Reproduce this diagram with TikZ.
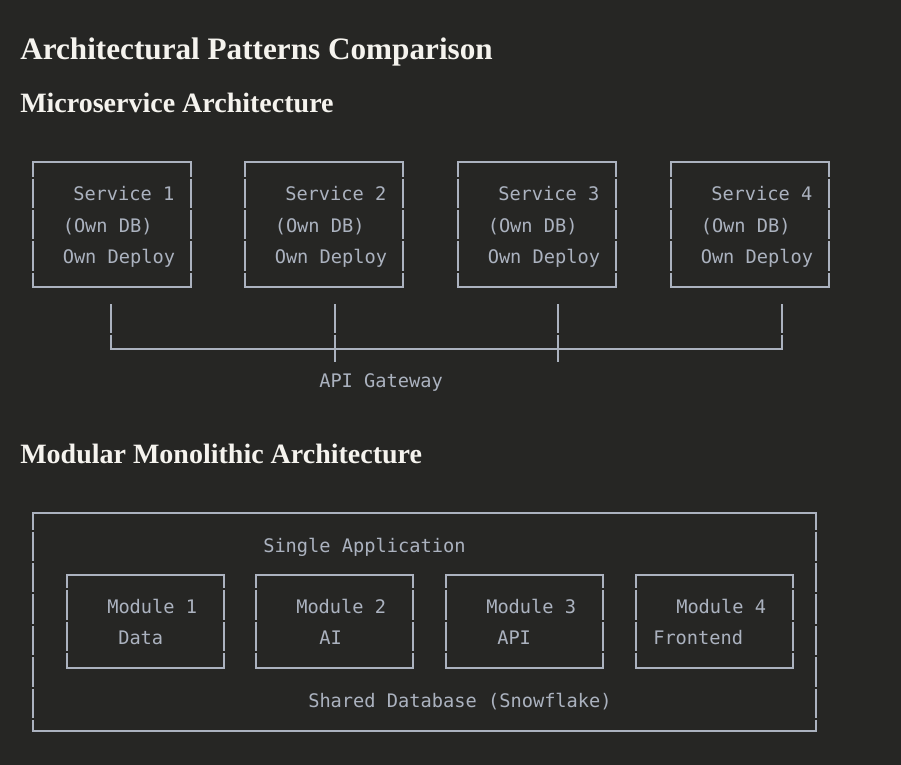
\documentclass[tikz,border=0pt]{standalone}
\usepackage{fontspec}
\usetikzlibrary{positioning,calc}
\newfontfamily\headfont{Liberation Serif}
\newfontfamily\codefont{DejaVu Sans Mono}
\definecolor{bgdark}{HTML}{262624}
\definecolor{headtext}{HTML}{F5F3EE}
\definecolor{asciitext}{HTML}{ABB2BF}
\tikzset{
  heading/.style={anchor=base west, inner sep=0pt, text=headtext,
    font=\headfont\bfseries\fontsize{21}{25}\selectfont},
  maintitle/.style={heading, font=\headfont\bfseries\fontsize{23.4}{28}\selectfont},
  ascii/.style={anchor=base west, inner sep=0pt, text=asciitext,
    font=\codefont\fontsize{14}{17}\selectfont},
  asciibox/.style={inner sep=0pt, outer sep=0pt},
  svcbox/.style={asciibox, minimum width=118.5pt, minimum height=93.75pt},
  modbox/.style={asciibox, minimum width=117.75pt, minimum height=69.75pt},
  wire/.style={draw=asciitext, line width=1.2pt},
  rowgaps/.style={dash pattern=on 22.1pt off 1.5pt, dash phase=#1},
  rowgaps/.default=11.2pt,
  linegap/.style={dash pattern=on 21.4pt off 1.6pt on 60pt off 1pt},
}
% frame drawn like box-drawing characters: solid top/bottom, broken sides
\newcommand\asciiframe[2][11.2pt]{%
  \draw[wire, line cap=rect] (#2.north west) -- (#2.north east) (#2.south west) -- (#2.south east);
  \draw[wire, rowgaps=#1] (#2.north west) -- (#2.south west) (#2.north east) -- (#2.south east);}

\begin{document}
\begin{tikzpicture}[x=0.75pt,y=-0.75pt]
	\fill[bgdark] (0,0) rectangle (901,765);
	\useasboundingbox (0,0) rectangle (901,765);
	%
	\node[maintitle] (h1) at (20,59) {Architectural Patterns Comparison};
	\node[heading] (h2) at (20,112) {Microservice Architecture};
	%
	\node[svcbox, anchor=north west] (s1) at (33,162) {};
	\node[svcbox, right=40.5pt of s1] (s2) {};
	\node[svcbox, right=41.25pt of s2] (s3) {};
	\node[svcbox, right=41.25pt of s3] (s4) {};
	\asciiframe{s1}
	\asciiframe{s2}
	\asciiframe{s3}
	\asciiframe{s4}
	%
	\node[ascii] (sv1) at ($(s1.north west)+(40,38)$) {Service 1};
	\node[ascii] (db1) at ($(s1.north west)+(29.5,70)$) {(Own DB)};
	\node[ascii] (dp1) at ($(s1.north west)+(29.5,101.5)$) {Own Deploy};
	\node[ascii] (sv2) at ($(s2.north west)+(40,38)$) {Service 2};
	\node[ascii] (db2) at ($(s2.north west)+(29.5,70)$) {(Own DB)};
	\node[ascii] (dp2) at ($(s2.north west)+(29.5,101.5)$) {Own Deploy};
	\node[ascii] (sv3) at ($(s3.north west)+(40,38)$) {Service 3};
	\node[ascii] (db3) at ($(s3.north west)+(29.5,70)$) {(Own DB)};
	\node[ascii] (dp3) at ($(s3.north west)+(29.5,101.5)$) {Own Deploy};
	\node[ascii] (sv4) at ($(s4.north west)+(40,38)$) {Service 4};
	\node[ascii] (db4) at ($(s4.north west)+(29.5,70)$) {(Own DB)};
	\node[ascii] (dp4) at ($(s4.north west)+(29.5,101.5)$) {Own Deploy};
	%
	\coordinate (t1) at (111,304);
	\coordinate (t2) at (335,304);
	\coordinate (t3) at (558,304);
	\coordinate (t4) at (782,304);
	\coordinate (c1) at (111,349);
	\coordinate (c4) at (782,349);
	\coordinate (e2) at (335,362);
	\coordinate (e3) at (558,362);
	\draw[wire, line cap=rect] (c1) -- (c4);
	\draw[wire, linegap] (t1) -- (c1);
	\draw[wire, linegap] (t2) -- (e2);
	\draw[wire, linegap] (t3) -- (e3);
	\draw[wire, linegap] (t4) -- (c4);
	\node[ascii] (gw) at (319,387) {API Gateway};
	%
	\node[heading] (h3) at (20,463) {Modular Monolithic Architecture};
	\node[asciibox, minimum width=587.25pt, minimum height=163.5pt, anchor=north west] (app) at (33,513) {};
	\asciiframe[9.7pt]{app}
	\node[ascii] (sa) at ($(app.north west)+(230,39)$) {Single Application};
	%
	\node[modbox, anchor=north west] (m1) at (67,575) {};
	\node[modbox, right=24pt of m1] (m2) {};
	\node[modbox, right=24.75pt of m2] (m3) {};
	\node[modbox, right=24.75pt of m3] (m4) {};
	\asciiframe[12pt]{m1}
	\asciiframe[12pt]{m2}
	\asciiframe[12pt]{m3}
	\asciiframe[12pt]{m4}
	%
	\node[ascii] (mn1) at ($(m1.north west)+(40,38)$) {Module 1};
	\node[ascii] (md1) at ($(m1.north west)+(51,69)$) {Data};
	\node[ascii] (mn2) at ($(m2.north west)+(40,38)$) {Module 2};
	\node[ascii] (md2) at ($(m2.north west)+(63,69)$) {AI};
	\node[ascii] (mn3) at ($(m3.north west)+(40,38)$) {Module 3};
	\node[ascii] (md3) at ($(m3.north west)+(51,69)$) {API};
	\node[ascii] (mn4) at ($(m4.north west)+(40,38)$) {Module 4};
	\node[ascii] (md4) at ($(m4.north west)+(17,69)$) {Frontend};
	%
	\node[ascii] (sdb) at ($(app.north west)+(275,194)$) {Shared Database (Snowflake)};
\end{tikzpicture}
\end{document}
